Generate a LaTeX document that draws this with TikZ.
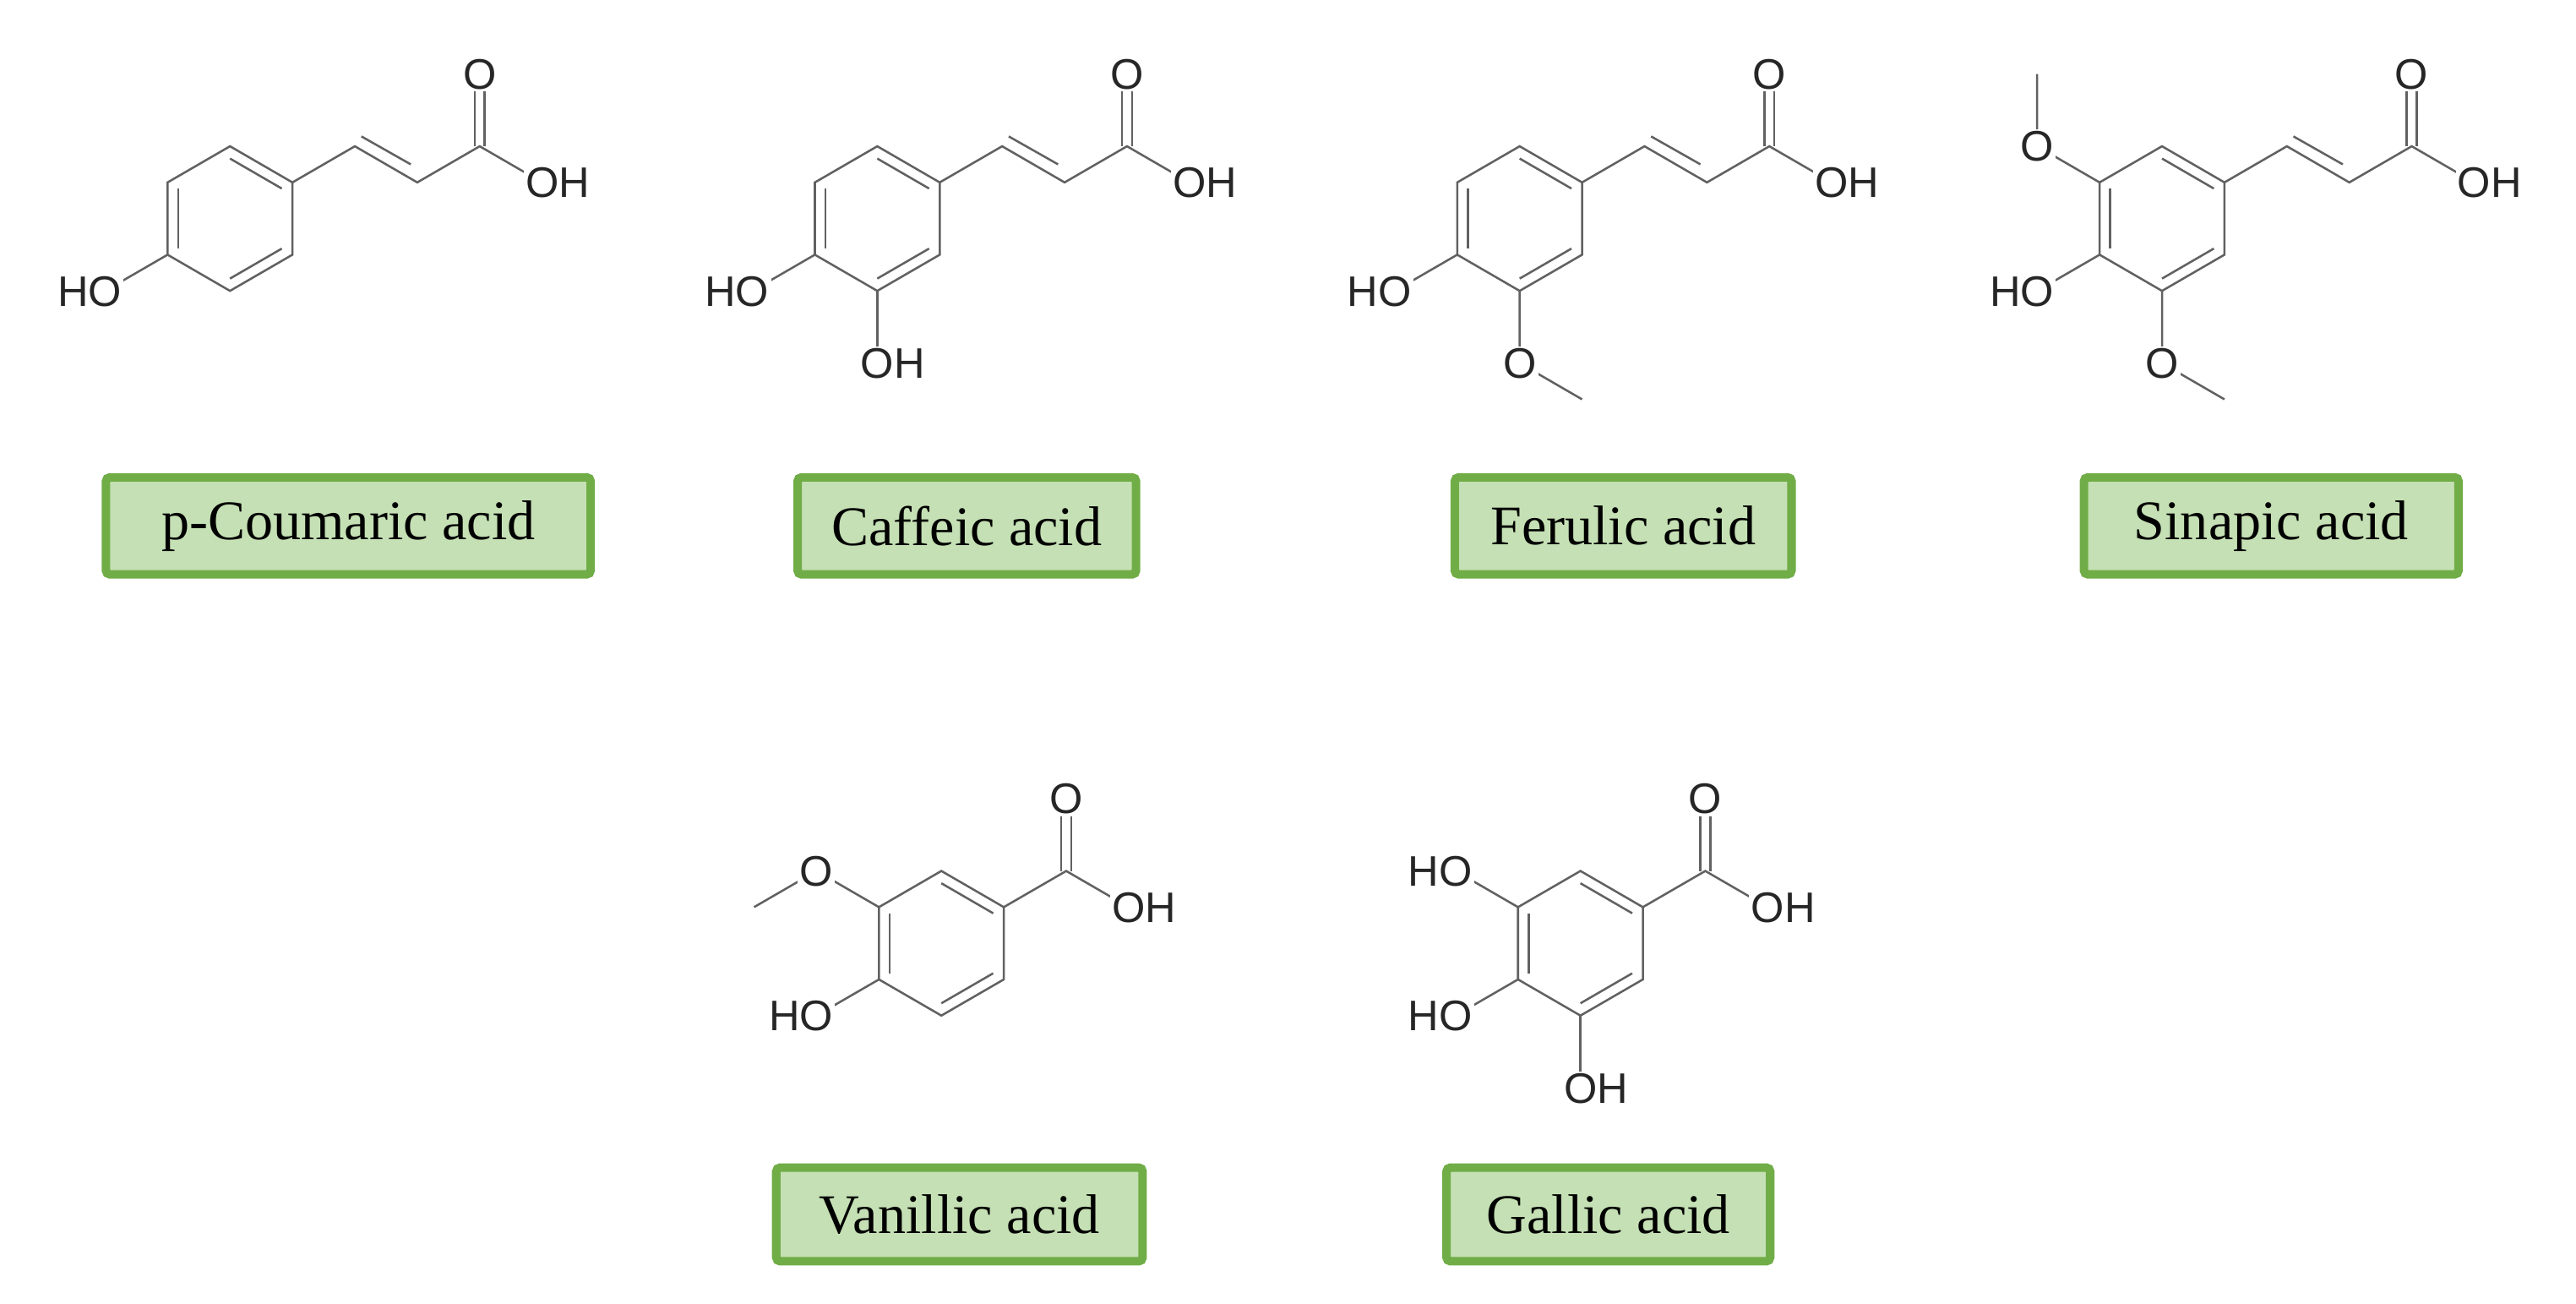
\documentclass[tikz,border=0pt]{standalone}
\usepackage{fontspec}
\setmainfont{Liberation Serif}
\newfontfamily\chemf{Liberation Sans}
\usetikzlibrary{calc}
\definecolor{boxgreen}{HTML}{70AD47}
\definecolor{boxfill}{HTML}{C5E0B4}
\tikzset{
  bond/.style={line width=0.65pt, draw=black!62},
  lab/.style={font=\chemf\fontsize{13}{15}\selectfont, text=black!85, fill=white, inner sep=0.6pt, anchor=base, yshift=-4.6pt},
  acidbox/.style={draw=boxgreen, line width=2.6pt, fill=boxfill, rounded corners=1.2pt, font=\fontsize{17}{20}\selectfont, inner sep=0pt}
}
% ring centred at current scope origin, Kekule pattern
\newcommand\myring{%
  \coordinate (T) at (0,-44); \coordinate (UR) at (38,-22); \coordinate (LR) at (38,22);
  \coordinate (B) at (0,44); \coordinate (LL) at (-38,22); \coordinate (UL) at (-38,-22);
  \coordinate (Z) at (0,0);
  \draw[bond] (T)--(UR)--(LR)--(B)--(LL)--(UL)--cycle;
  \draw[bond] ($(UL)!0.17!(Z)$)--($(LL)!0.17!(Z)$);
  \draw[bond] ($(T)!0.17!(Z)$)--($(UR)!0.17!(Z)$);
  \draw[bond] ($(B)!0.17!(Z)$)--($(LR)!0.17!(Z)$);
}
\newcommand\myOH[1]{\node[lab, xshift=4.7pt] at (#1) {OH};}
\newcommand\myHO[1]{\node[lab, xshift=-4.7pt] at (#1) {HO};}
\newcommand\myO[1]{\node[lab] at (#1) {O};}
% cinnamic chain from UR
\newcommand\mychain{%
  \coordinate (c1) at (76,-44); \coordinate (c2) at (114,-22); \coordinate (cc) at (152,-44);
  \coordinate (co) at (152,-88); \coordinate (coh) at (190,-22);
  \draw[bond] (UR)--(c1)--(c2)--(cc)--(coh);
  \draw[bond] (80,-50)--(110,-33);
  \draw[bond] ([xshift=-1.5pt]cc)--([xshift=-1.5pt]co);
  \draw[bond] ([xshift=1.5pt]cc)--([xshift=1.5pt]co);
  \myO{co} \myOH{coh}
}
\newcommand\mycooh{%
  \coordinate (cc) at (76,-44); \coordinate (co) at (76,-88); \coordinate (coh) at (114,-22);
  \draw[bond] (UR)--(cc)--(coh);
  \draw[bond] ([xshift=-1.5pt]cc)--([xshift=-1.5pt]co);
  \draw[bond] ([xshift=1.5pt]cc)--([xshift=1.5pt]co);
  \myO{co} \myOH{coh}
}
\begin{document}
\begin{tikzpicture}[x=0.5pt,y=-0.5pt]
\useasboundingbox (0,0) rectangle (1568,793);
% p-Coumaric
\begin{scope}[shift={(140,133)}]
  \myring \mychain
  \coordinate (h1) at (-76,44); \draw[bond] (LL)--(h1); \myHO{h1}
\end{scope}
% Caffeic
\begin{scope}[shift={(534,133)}]
  \myring \mychain
  \coordinate (h1) at (-76,44); \draw[bond] (LL)--(h1); \myHO{h1}
  \coordinate (h2) at (0,88); \draw[bond] (B)--(h2); \myOH{h2}
\end{scope}
% Ferulic
\begin{scope}[shift={(925,133)}]
  \myring \mychain
  \coordinate (h1) at (-76,44); \draw[bond] (LL)--(h1); \myHO{h1}
  \coordinate (o2) at (0,88); \coordinate (m2) at (38,110);
  \draw[bond] (B)--(o2)--(m2); \myO{o2}
\end{scope}
% Sinapic
\begin{scope}[shift={(1316,133)}]
  \myring \mychain
  \coordinate (h1) at (-76,44); \draw[bond] (LL)--(h1); \myHO{h1}
  \coordinate (o2) at (0,88); \coordinate (m2) at (38,110);
  \draw[bond] (B)--(o2)--(m2); \myO{o2}
  \coordinate (o3) at (-76,-44); \coordinate (m3) at (-76,-88);
  \draw[bond] (UL)--(o3)--(m3); \myO{o3}
\end{scope}
% Vanillic
\begin{scope}[shift={(573,574)}]
  \myring \mycooh
  \coordinate (h1) at (-76,44); \draw[bond] (LL)--(h1); \myHO{h1}
  \coordinate (o3) at (-76,-44); \coordinate (m3) at (-114,-22);
  \draw[bond] (UL)--(o3)--(m3); \myO{o3}
\end{scope}
% Gallic
\begin{scope}[shift={(962,574)}]
  \myring \mycooh
  \coordinate (h1) at (-76,44); \draw[bond] (LL)--(h1); \myHO{h1}
  \coordinate (h3) at (-76,-44); \draw[bond] (UL)--(h3); \myHO{h3}
  \coordinate (h2) at (0,88); \draw[bond] (B)--(h2); \myOH{h2}
\end{scope}
% name boxes
\node[acidbox, minimum width=147.5pt, minimum height=29.5pt] (pc) at (212,320) {p-Coumaric acid};
\node[acidbox, minimum width=103pt, minimum height=29.5pt] (ca) at (588.5,320) {Caffeic acid};
\node[acidbox, minimum width=102.5pt, minimum height=29.5pt] (fe) at (988,320) {Ferulic acid};
\node[acidbox, minimum width=114pt, minimum height=29.5pt] (si) at (1382.5,320) {Sinapic acid};
\node[acidbox, minimum width=111.5pt, minimum height=28.5pt] (va) at (584,739) {Vanillic acid};
\node[acidbox, minimum width=98.5pt, minimum height=28.5pt] (ga) at (979,739) {Gallic acid};
\end{tikzpicture}
\end{document}
